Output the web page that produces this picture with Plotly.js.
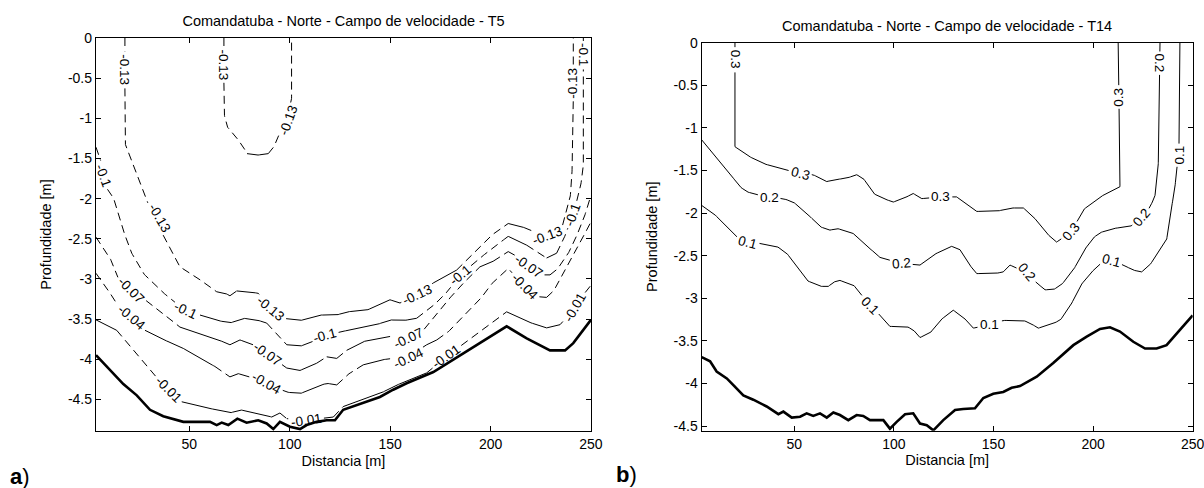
<!DOCTYPE html>
<html><head><meta charset="utf-8">
<script src="https://cdn.plot.ly/plotly-3.0.1.min.js"></script>
<style>html,body{margin:0;padding:0;background:#fff}#chart{width:1204px;height:488px}</style>
</head><body><div id="chart"></div>
<script>
// ===== Panel a) T5 : contour lines (x = distance [m], y = depth [m]) =====
const a_m013_x = [17.9,17.9,22.9,28.7,34.4,39.5,45.3,51.9,63.6,68.0,70.2,73.6,80.2,84.3,90.1,96.8,105.1,115.0,123.4,128.3,138.3,146.6,149.9,154.9,162.8,171.5,183.1,191.4,199.7,208.8,214.6,219.6,227.6,234.6,237.9,239.5,240.5,241.2,241.2];
const a_m013_y = [0,-1.31,-1.64,-2.02,-2.33,-2.58,-2.85,-2.95,-3.16,-3.18,-3.21,-3.15,-3.16,-3.18,-3.32,-3.49,-3.52,-3.45,-3.45,-3.41,-3.39,-3.30,-3.26,-3.30,-3.20,-3.05,-2.89,-2.68,-2.47,-2.31,-2.34,-2.39,-2.48,-2.45,-2.14,-2.02,-1.77,-0.77,0];
const a_m013b_x = [67.2,67.2,68.6,71.9,76.8,78.7,83.5,89.3,91.8,93.6,97.6,100.9,100.9];
const a_m013b_y = [0,-0.93,-1.10,-1.19,-1.35,-1.44,-1.46,-1.44,-1.37,-1.27,-1.02,-0.77,0];
const a_m010_x = [3.5,5.5,8.8,12.1,15.4,18.8,21.3,27.0,35.4,42.8,55.3,62.7,70.2,76.8,83.5,88.5,93.5,98.5,105.1,113.4,125.0,133.3,143.3,149.9,156.5,163.2,169.8,176.4,184.8,191.4,199.7,208.8,218.0,224.6,227.9,232.9,236.2,241.0,244.5,246.2,246.2];
const a_m010_y = [-1.36,-1.49,-1.87,-1.98,-2.27,-2.52,-2.68,-2.93,-3.14,-3.29,-3.45,-3.51,-3.55,-3.49,-3.51,-3.55,-3.68,-3.82,-3.84,-3.76,-3.66,-3.62,-3.57,-3.51,-3.52,-3.49,-3.37,-3.22,-2.96,-2.81,-2.64,-2.47,-2.58,-2.69,-2.74,-2.68,-2.52,-2.20,-1.89,-1.64,0];
const a_m007_x = [3.5,6.3,10.5,14.4,21.2,27.9,35.4,45.3,55.3,62.7,70.2,75.2,81.7,89.1,98.5,105.1,113.4,118.4,123.4,128.3,136.6,144.9,151.4,158.9,166.5,173.2,183.1,189.7,194.7,201.3,208.8,214.6,219.6,226.2,229.6,232.9,237.9,241.2,246.2,248.5,250];
const a_m007_y = [-2.48,-2.58,-2.74,-2.98,-3.14,-3.26,-3.40,-3.60,-3.68,-3.74,-3.82,-3.76,-3.82,-3.94,-4.11,-4.14,-4.05,-3.97,-3.99,-3.89,-3.78,-3.74,-3.71,-3.74,-3.64,-3.43,-3.14,-2.97,-2.85,-2.78,-2.66,-2.74,-2.84,-2.95,-2.95,-2.89,-2.72,-2.56,-2.27,-2.08,-1.96];
const a_m004_x = [3.5,8.0,14.4,21.2,27.9,35.4,45.3,55.3,62.7,70.2,74.4,81.2,88.6,98.5,105.1,113.4,118.4,123.4,128.3,136.6,144.9,151.4,158.9,168.2,173.2,178.1,186.4,194.7,199.7,208.8,216.9,222.9,227.9,231.2,236.2,242.9,247.9,250];
const a_m004_y = [-2.93,-3.08,-3.33,-3.48,-3.64,-3.74,-3.84,-3.99,-4.09,-4.22,-4.18,-4.23,-4.30,-4.41,-4.43,-4.34,-4.30,-4.32,-4.20,-4.07,-4.01,-3.99,-3.97,-3.82,-3.76,-3.68,-3.47,-3.26,-3.08,-2.87,-3.10,-3.22,-3.23,-3.16,-2.93,-2.64,-2.39,-2.29];
const a_m001_x = [3.5,13.8,22.1,28.7,39.3,46.2,55.3,63.6,70.2,75.2,85.2,91.0,95.1,98.5,108.1,115.0,121.7,126.6,133.3,144.9,151.5,161.5,168.2,178.0,184.8,198.1,208.0,218.0,227.9,234.6,242.1,247.9,250];
const a_m001_y = [-3.51,-3.64,-3.89,-4.09,-4.38,-4.53,-4.59,-4.63,-4.67,-4.63,-4.68,-4.72,-4.67,-4.74,-4.76,-4.74,-4.72,-4.59,-4.53,-4.43,-4.34,-4.24,-4.17,-3.97,-3.84,-3.60,-3.41,-3.53,-3.61,-3.57,-3.36,-3.14,-3.08];
const a_bed_x = [3.5,10.5,17.1,23.8,30.4,37.0,47.0,60.3,63.6,66.1,69.4,73.9,78.5,84.3,88.5,91.8,95.1,100.1,105.1,108.4,113.4,118.4,122.5,126.6,133.3,144.9,151.5,158.2,171.5,184.8,198.1,208.0,218.0,229.6,237.1,241.2,250];
const a_bed_y = [-3.95,-4.13,-4.31,-4.45,-4.63,-4.71,-4.78,-4.78,-4.82,-4.79,-4.82,-4.74,-4.79,-4.76,-4.80,-4.87,-4.78,-4.84,-4.87,-4.82,-4.78,-4.76,-4.76,-4.63,-4.57,-4.47,-4.38,-4.30,-4.16,-3.95,-3.74,-3.59,-3.74,-3.89,-3.89,-3.80,-3.51];
// contour labels, panel a
const a_lblText = ['-0.13','-0.13','-0.13','-0.13','-0.1','-0.1','-0.13','-0.07','-0.04','-0.1','-0.13','-0.07','-0.04','-0.01','-0.01','-0.1','-0.13','-0.07','-0.04','-0.01','-0.1','-0.07','-0.04','-0.13','-0.1','-0.01'];
const a_lblX = [17.9,67.2,99.6,241.0,246.0,7.2,34.9,21.2,21.2,48.3,90.4,89.1,88.6,39.6,108.1,117.5,163.8,158.9,158.9,178.0,184.8,219.1,216.9,228.6,241.0,242.1];
const a_lblY = [-0.40,-0.34,-1.02,-0.56,-0.21,-1.71,-2.24,-3.14,-3.48,-3.39,-3.37,-3.94,-4.30,-4.38,-4.76,-3.70,-3.20,-3.74,-3.99,-3.97,-2.96,-2.85,-3.10,-2.46,-2.20,-3.36];
const a_lblAngle = [90,90,-70,-90,90,70,60,45,40,25,40,35,30,45,-8,-15,-25,-25,-25,-35,-40,35,45,-20,-70,-60];

// ===== Panel b) T14 =====
const b_030_x = [20.2,20.2,26.1,34.4,42.8,52.9,59.5,66.3,69.6,76.3,81.3,84.6,89.7,94.7,99.7,104.7,109.7,114.0,123.6,131.5,141.6,151.6,158.3,165.0,170.0,176.7,181.7,189.2,195.1,203.5,213.5,213.0,212.6];
const b_030_y = [0,-1.22,-1.32,-1.42,-1.47,-1.54,-1.55,-1.63,-1.61,-1.59,-1.55,-1.59,-1.77,-1.83,-1.87,-1.83,-1.77,-1.83,-1.81,-1.81,-1.98,-1.98,-1.94,-1.94,-2.04,-2.24,-2.34,-2.22,-1.96,-1.81,-1.69,-0.67,0];
const b_020_x = [3.5,9.3,16.1,22.7,26.1,37.3,44.5,49.5,56.2,62.9,67.9,71.3,74.6,79.6,86.3,89.7,93.0,103.6,113.1,119.8,129.0,133.2,137.3,141.6,150.8,154.9,158.3,166.8,171.7,175.9,180.0,184.2,190.1,195.1,200.1,203.5,210.0,218.5,225.0,228.5,231.0,232.7,233.2,233.6];
const b_020_y = [-1.14,-1.30,-1.49,-1.69,-1.75,-1.82,-1.83,-1.87,-2.00,-2.16,-2.20,-2.18,-2.20,-2.24,-2.39,-2.45,-2.52,-2.59,-2.61,-2.49,-2.39,-2.43,-2.59,-2.71,-2.71,-2.69,-2.61,-2.70,-2.82,-2.90,-2.90,-2.84,-2.67,-2.45,-2.29,-2.23,-2.18,-2.16,-2.05,-1.93,-1.81,-1.49,-0.67,0];
const b_010_x = [3.5,9.3,16.1,21.7,26.5,31.1,36.1,41.2,46.2,51.2,56.2,62.9,67.1,69.6,72.9,76.3,79.6,83.0,88.0,93.9,98.0,103.0,106.4,109.7,113.1,118.1,123.1,129.8,134.8,139.9,148.2,154.9,165.0,168.3,172.5,178.4,183.4,188.4,193.4,198.4,203.5,209.0,215.2,220.2,224.4,228.5,233.6,236.9,238.5,241.0,241.9,243.1,243.3,243.6];
const b_010_y = [-1.91,-2.00,-2.16,-2.29,-2.35,-2.35,-2.37,-2.39,-2.47,-2.63,-2.79,-2.86,-2.86,-2.81,-2.79,-2.82,-2.84,-2.94,-3.08,-3.22,-3.33,-3.33,-3.33,-3.37,-3.46,-3.41,-3.26,-3.14,-3.22,-3.35,-3.31,-3.26,-3.26,-3.29,-3.35,-3.31,-3.26,-3.10,-2.86,-2.71,-2.60,-2.56,-2.61,-2.67,-2.69,-2.61,-2.43,-2.32,-2.04,-1.73,-1.49,-1.34,-0.63,0];
const b_bed_x = [3.5,7.7,11.0,16.1,19.4,24.4,29.4,36.1,42.0,44.5,48.7,52.9,56.2,59.5,62.9,66.3,69.6,72.9,77.1,81.3,84.6,88.0,94.7,98.0,101.4,105.6,109.7,113.1,116.5,119.8,124.8,130.7,134.8,140.7,144.9,149.9,154.9,159.1,163.3,171.7,180.0,190.1,196.8,203.5,208.5,213.5,220.2,226.1,231.9,236.9,243.6,250];
const b_bed_y = [-3.69,-3.74,-3.86,-3.94,-4.02,-4.14,-4.19,-4.27,-4.36,-4.33,-4.40,-4.39,-4.35,-4.38,-4.35,-4.40,-4.34,-4.37,-4.43,-4.37,-4.38,-4.43,-4.43,-4.53,-4.45,-4.36,-4.35,-4.47,-4.49,-4.55,-4.43,-4.31,-4.30,-4.29,-4.17,-4.12,-4.10,-4.05,-4.03,-3.92,-3.76,-3.55,-3.45,-3.36,-3.34,-3.39,-3.51,-3.59,-3.59,-3.55,-3.37,-3.20];
const b_lblText = ['0.3','0.3','0.3','0.3','0.3','0.2','0.2','0.2','0.2','0.2','0.1','0.1','0.1','0.1','0.1'];
const b_lblX = [20.2,52.9,123.6,189.2,212.8,37.3,103.6,166.8,224.3,233.4,26.5,88.0,148.2,209.0,243.3];
const b_lblY = [-0.20,-1.54,-1.81,-2.22,-0.64,-1.82,-2.59,-2.70,-2.05,-0.24,-2.35,-3.08,-3.31,-2.56,-1.32];
const b_lblAngle = [90,15,0,-50,-90,0,-5,50,-50,90,15,45,0,15,-90];

// ===== ticks / titles =====
const xTickVals = [50,100,150,200,250];
const yTickVals = [0,-0.5,-1,-1.5,-2,-2.5,-3,-3.5,-4,-4.5];
const yTickText = ['0','-0.5','-1','-1.5','-2','-2.5','-3','-3.5','-4','-4.5'];
const titleA = 'Comandatuba - Norte - Campo de velocidade - T5';
const titleB = 'Comandatuba - Norte - Campo de velocidade - T14';
const xTitle = 'Distancia [m]';
const yTitle = 'Profundidade [m]';

// ===== layout geometry =====
const W = 1204, H = 488;
const FONT = '"Liberation Sans", Arial, Helvetica, sans-serif';
const LBL_SIZE = 13.5;
const domA = {x:[96/W, 591/W], y:[1-431/H, 1-38/H]};
const domB = {x:[701.7/W, 1192.7/W], y:[1-430.7/H, 1-42.7/H]};
const rangeAx = [3.5,250.02], rangeAy = [-4.894,0];
const rangeBx = [3.5,250.02], rangeBy = [-4.554,0];

function pxPerUnit(dom, range, size){ return (dom[1]-dom[0])*size/(range[1]-range[0]); }
const kA = [pxPerUnit(domA.x, rangeAx, W), pxPerUnit(domA.y, rangeAy, H)];
const kB = [pxPerUnit(domB.x, rangeBx, W), pxPerUnit(domB.y, rangeBy, H)];

// split a polyline into gentle (solid) and steep (dashed) parts
function splitSteep(xs, ys, k, thr){
  const s={x:[],y:[]}, d={x:[],y:[]};
  let prev=null;
  for(let i=0;i<xs.length-1;i++){
    const steep = Math.abs((ys[i+1]-ys[i])*k[1]) > thr*Math.abs((xs[i+1]-xs[i])*k[0]);
    const t = steep ? d : s;
    if(steep!==prev){
      if(t.x.length){t.x.push(null);t.y.push(null);}
      t.x.push(xs[i]); t.y.push(ys[i]);
    }
    t.x.push(xs[i+1]); t.y.push(ys[i+1]);
    prev = steep;
  }
  return {s,d};
}
// text width estimate (em) for label gap radius
function textEm(t){ let w=0; for(const c of t) w += (c==='.')?0.278:(c==='-')?0.333:0.556; return w; }
// distance in px from point to polyline
function distToLine(px, py, xs, ys, k){
  let best=1e9;
  for(let i=0;i<xs.length-1;i++){
    const ax=xs[i]*k[0], ay=ys[i]*k[1], bx=xs[i+1]*k[0], by=ys[i+1]*k[1];
    const X=px*k[0], Y=py*k[1];
    const dx=bx-ax, dy=by-ay, L=dx*dx+dy*dy;
    let t = L>0 ? ((X-ax)*dx+(Y-ay)*dy)/L : 0; t=Math.max(0,Math.min(1,t));
    const ex=ax+t*dx-X, ey=ay+t*dy-Y;
    best=Math.min(best, Math.hypot(ex,ey));
  }
  return best;
}
// densify a (null-separated) polyline and break it where labels sit
function cutAtLabels(p, k, labels){
  const ox=[], oy=[];
  for(let i=0;i<p.x.length;i++){
    if(p.x[i]===null){ ox.push(null); oy.push(null); continue; }
    if(i>0 && p.x[i-1]!==null){
      const x0=p.x[i-1], y0=p.y[i-1], x1=p.x[i], y1=p.y[i];
      const n=Math.max(1, Math.ceil(Math.hypot((x1-x0)*k[0],(y1-y0)*k[1])/1.5));
      for(let j=1;j<=n;j++){ ox.push(x0+(x1-x0)*j/n); oy.push(y0+(y1-y0)*j/n); }
    } else { ox.push(p.x[i]); oy.push(p.y[i]); }
  }
  const rx=[], ry=[];
  for(let i=0;i<ox.length;i++){
    let inside = ox[i]===null;
    if(!inside) for(const L of labels){
      if(Math.hypot((ox[i]-L.x)*k[0],(oy[i]-L.y)*k[1]) < L.r){ inside=true; break; }
    }
    if(inside){ if(rx.length && rx[rx.length-1]!==null){ rx.push(null); ry.push(null);} }
    else { rx.push(ox[i]); ry.push(oy[i]); }
  }
  return {x:rx, y:ry};
}

const traces = [];
function addLine(p, xa, ya, width, dash){
  traces.push({x:p.x, y:p.y, xaxis:xa, yaxis:ya, mode:'lines', type:'scatter', connectgaps:false,
    line:{color:'#000', width, dash:dash||'solid'}, hoverinfo:'skip', showlegend:false});
}
function drawPanel(lines, txt, lx, ly, k, xa, ya, dashed){
  // assign each label to its nearest contour line
  const per = lines.map(()=>[]);
  txt.forEach((t,i)=>{
    let bi=0, bd=1e9;
    lines.forEach(([x,y],j)=>{ const d=distToLine(lx[i], ly[i], x, y, k); if(d<bd){bd=d;bi=j;} });
    per[bi].push({x:lx[i], y:ly[i], r:textEm(t)*LBL_SIZE/2+2});
  });
  lines.forEach(([x,y],j)=>{
    if(dashed){
      const p = splitSteep(x, y, k, 0.6);
      if(p.s.x.length) addLine(cutAtLabels(p.s, k, per[j]), xa, ya, 1, 'solid');
      if(p.d.x.length) addLine(cutAtLabels(p.d, k, per[j]), xa, ya, 1, '8px,5px');
    } else addLine(cutAtLabels({x,y}, k, per[j]), xa, ya, 1, 'solid');
  });
}
drawPanel([[a_m013_x,a_m013_y],[a_m013b_x,a_m013b_y],[a_m010_x,a_m010_y],[a_m007_x,a_m007_y],[a_m004_x,a_m004_y],[a_m001_x,a_m001_y]],
  a_lblText, a_lblX, a_lblY, kA, 'x', 'y', true);
addLine({x:a_bed_x, y:a_bed_y}, 'x', 'y', 2.6);
drawPanel([[b_030_x,b_030_y],[b_020_x,b_020_y],[b_010_x,b_010_y]], b_lblText, b_lblX, b_lblY, kB, 'x2', 'y2', false);
addLine({x:b_bed_x, y:b_bed_y}, 'x2', 'y2', 2.6);

const annotations = [];
function addLabels(txt, xs, ys, ang, xr, yr){
  txt.forEach((t,i)=>annotations.push({x:xs[i], y:ys[i], xref:xr, yref:yr, text:t, textangle:ang[i],
    showarrow:false, borderpad:0, font:{family:FONT, size:LBL_SIZE, color:'#000'}}));
}
addLabels(a_lblText, a_lblX, a_lblY, a_lblAngle, 'x', 'y');
addLabels(b_lblText, b_lblX, b_lblY, b_lblAngle, 'x2', 'y2');
annotations.push({text:titleB, xref:'paper', yref:'paper', x:947/W, y:1-25.7/H, xanchor:'center', yanchor:'middle',
  showarrow:false, font:{family:FONT, size:14.5, color:'#000'}});
annotations.push({text:'<b>a</b>)', xref:'paper', yref:'paper', x:20/W, y:1-476/H, xanchor:'center', yanchor:'middle',
  showarrow:false, font:{family:FONT, size:22, color:'#000'}});
annotations.push({text:'<b>b</b>)', xref:'paper', yref:'paper', x:626.5/W, y:1-474/H, xanchor:'center', yanchor:'middle',
  showarrow:false, font:{family:FONT, size:22, color:'#000'}});

function axis(dom, range, isX, anchor){
  const a = {domain:dom, range, anchor, showline:true, linecolor:'#000', linewidth:1.2, mirror:'ticks',
    ticks:'inside', ticklen:5, tickwidth:1, tickcolor:'#000', showgrid:false, zeroline:false, fixedrange:true,
    ticklabeloverflow:'allow',
    tickfont:{family:FONT, size:14, color:'#000'}, automargin:false};
  if(isX){ a.tickvals = xTickVals; a.ticktext = xTickVals.map(String);
    a.title = {text:xTitle, font:{family:FONT, size:14.5, color:'#000'}, standoff:4}; }
  else { a.tickvals = yTickVals; a.ticktext = yTickText;
    a.title = {text:yTitle, font:{family:FONT, size:14.5, color:'#000'}, standoff:12}; }
  return a;
}

const layout = {
  width:W, height:H, margin:{l:0,r:0,t:0,b:0}, paper_bgcolor:'#fff', plot_bgcolor:'#fff', showlegend:false,
  title:{text:titleA, x:343.5/W, xanchor:'center', xref:'paper', y:1-21/H, yanchor:'middle', yref:'container',
    font:{family:FONT, size:14.5, color:'#000'}},
  xaxis: axis(domA.x, rangeAx, true, 'y'),
  yaxis: axis(domA.y, rangeAy, false, 'x'),
  xaxis2: axis(domB.x, rangeBx, true, 'y2'),
  yaxis2: axis(domB.y, rangeBy, false, 'x2'),
  annotations
};
Plotly.newPlot('chart', traces, layout, {staticPlot:true, displayModeBar:false});
</script></body></html>
